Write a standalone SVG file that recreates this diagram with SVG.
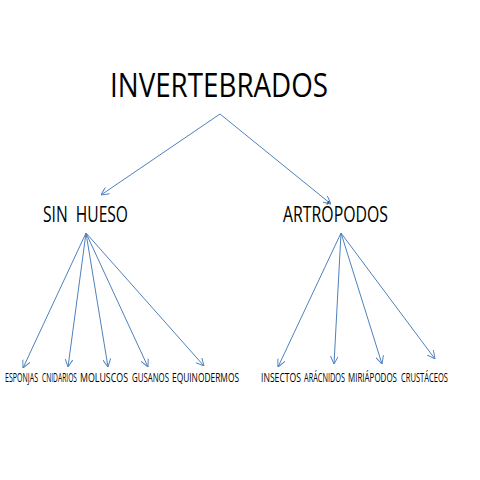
<svg xmlns="http://www.w3.org/2000/svg" width="480" height="480" viewBox="0 0 480 480">
<style>
.t{font-family:"Open Sans","Liberation Sans",sans-serif;fill:#000}
.s{font-size:12.5px}
.c line{stroke:#4f81bd;stroke-width:1;fill:none;marker-end:url(#a)}
</style>
<defs>
<marker id="a" viewBox="0 0 10 10" refX="10" refY="5" markerWidth="8" markerHeight="8" markerUnits="userSpaceOnUse" orient="auto">
<path d="M0,0 L10,5 L0,10" fill="none" stroke="#4f81bd" stroke-width="1.2"/>
</marker>
</defs>
<rect width="480" height="480" fill="#fff"/>
<g id="invertebrados"><text class="t" x="110" y="97" font-size="33" textLength="218" lengthAdjust="spacingAndGlyphs">INVERTEBRADOS</text></g>
<g id="sin-hueso"><text class="t" x="43" y="222" font-size="22" textLength="85" lengthAdjust="spacingAndGlyphs" xml:space="preserve">SIN  HUESO</text></g>
<g id="artropodos"><text class="t" x="283" y="222" font-size="22" textLength="105" lengthAdjust="spacingAndGlyphs">ARTRÓPODOS</text></g>
<g id="esponjas" transform="translate(5,382) scale(0.5,1)"><text class="t s" x="0" y="0" textLength="66" lengthAdjust="spacingAndGlyphs">ESPONJAS</text></g>
<g id="cnidarios" transform="translate(42,382) scale(0.5,1)"><text class="t s" x="0" y="0" textLength="70" lengthAdjust="spacingAndGlyphs">CNIDARIOS</text></g>
<g id="moluscos" transform="translate(80,382) scale(0.5,1)"><text class="t s" x="0" y="0" textLength="96" lengthAdjust="spacingAndGlyphs">MOLUSCOS</text></g>
<g id="gusanos" transform="translate(132,382) scale(0.5,1)"><text class="t s" x="0" y="0" textLength="74" lengthAdjust="spacingAndGlyphs">GUSANOS</text></g>
<g id="equinodermos" transform="translate(172,382) scale(0.5,1)"><text class="t s" x="0" y="0" textLength="134" lengthAdjust="spacingAndGlyphs">EQUINODERMOS</text></g>
<g id="insectos" transform="translate(261,382) scale(0.5,1)"><text class="t s" x="0" y="0" textLength="80" lengthAdjust="spacingAndGlyphs">INSECTOS</text></g>
<g id="aracnidos" transform="translate(304,382) scale(0.5,1)"><text class="t s" x="0" y="0" textLength="82" lengthAdjust="spacingAndGlyphs">ARÁCNIDOS</text></g>
<g id="miriapodos" transform="translate(348,382) scale(0.5,1)"><text class="t s" x="0" y="0" textLength="98" lengthAdjust="spacingAndGlyphs">MIRIÁPODOS</text></g>
<g id="crustaceos" transform="translate(401,382) scale(0.5,1)"><text class="t s" x="0" y="0" textLength="94" lengthAdjust="spacingAndGlyphs">CRUSTÁCEOS</text></g>
<g class="c" id="connectors">
<line x1="220" y1="114" x2="101" y2="195"/>
<line x1="220" y1="114" x2="331" y2="204"/>
<line x1="86" y1="233" x2="23" y2="368"/>
<line x1="86" y1="233" x2="68" y2="367"/>
<line x1="86" y1="233" x2="108" y2="367"/>
<line x1="86" y1="233" x2="148" y2="367"/>
<line x1="86" y1="233" x2="204" y2="366"/>
<line x1="341" y1="233" x2="278" y2="367"/>
<line x1="341" y1="233" x2="334" y2="364"/>
<line x1="341" y1="233" x2="382" y2="364"/>
<line x1="341" y1="233" x2="435" y2="359"/>
</g>
</svg>
